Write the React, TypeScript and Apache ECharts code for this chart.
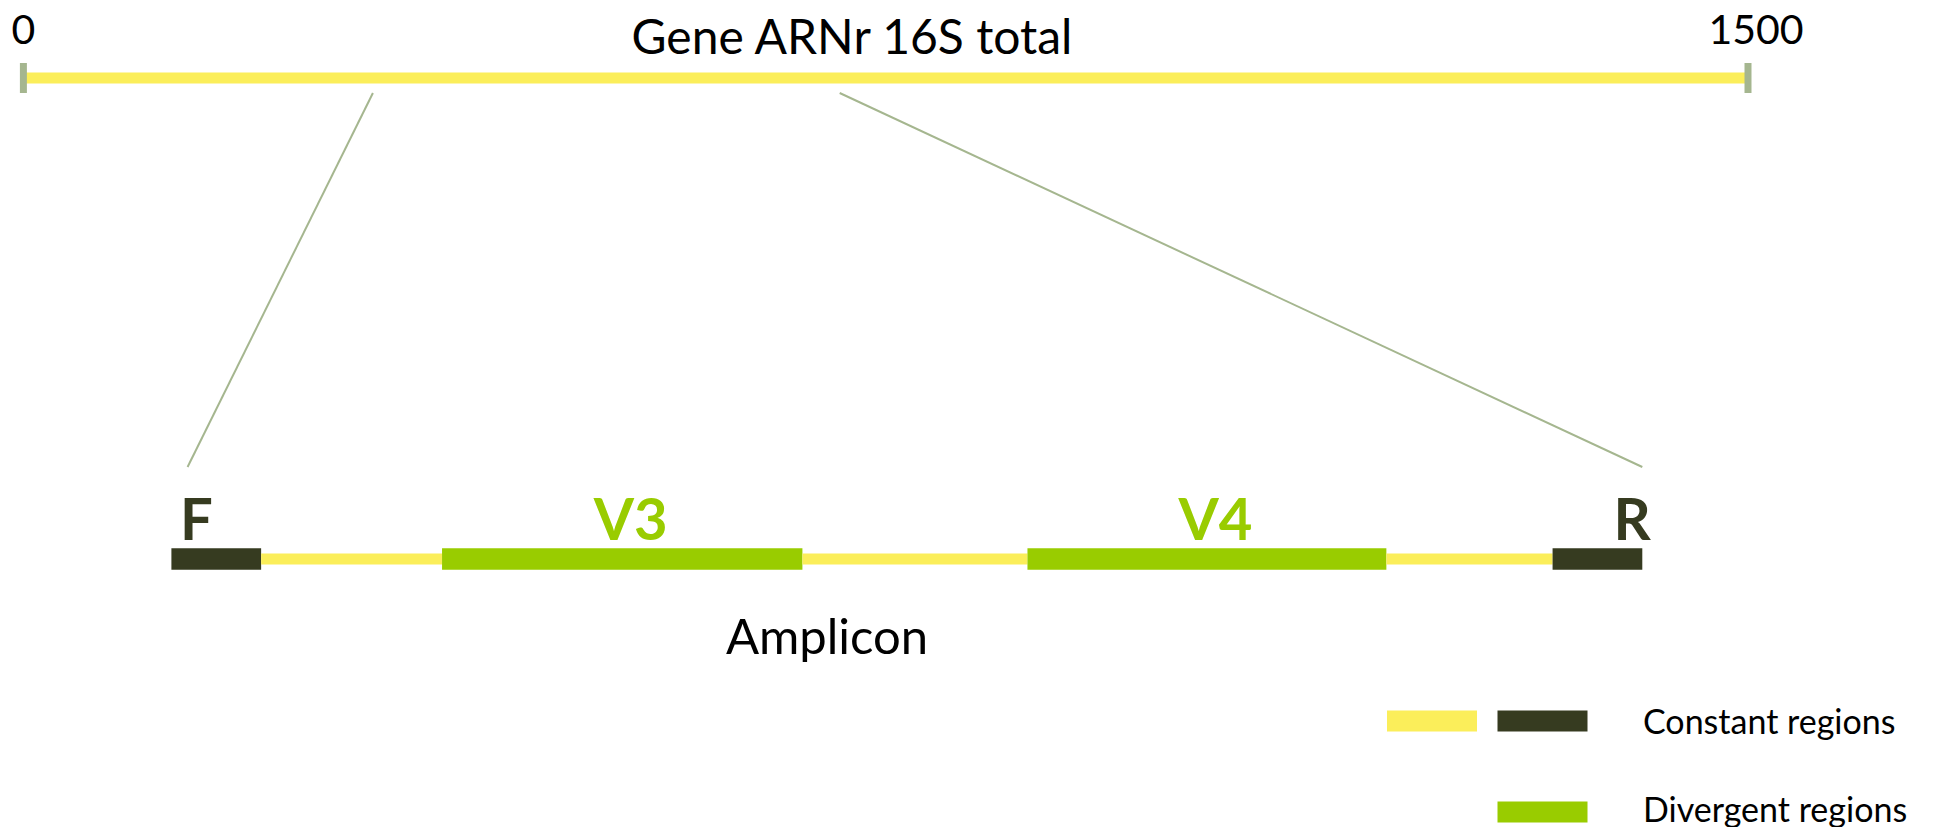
import React, { useEffect, useRef } from "react";
import * as echarts from "echarts";

// ---------- data ----------
const geneTitle = "Gene ARNr 16S total";
const geneRange = [0, 1500];
const geneTickValues = [0, 1500];
const geneBarStart = [0];
const geneBarEnd = [1500];

const ampliconTitle = "Amplicon";
const ampliconRange = [0, 100];
const segmentLabels = ["F", "", "V3", "", "V4", "", "R"];
const segmentStart = [0, 6.1, 18.4, 42.9, 58.2, 82.6, 93.9];
const segmentEnd = [6.1, 18.4, 42.9, 58.2, 82.6, 93.9, 100];
const segmentKind = ["primer", "constant", "variable", "constant", "variable", "constant", "primer"];

// zoom lines: position on the gene (bp) -> position on the amplicon scale
const zoomGenePos = [304, 710];
const zoomAmpliconPos = [1.1, 100];

const legendLabels = ["Constant regions", "Divergent regions"];
const legendKinds = [["constant", "primer"], ["variable"]];

// ---------- style ----------
const COLORS: Record<string, string> = {
  constant: "#FBEE5A",
  primer: "#363B20",
  variable: "#99CC00",
  link: "#A5B68F",
  text: "#000000",
};
const BAR_HEIGHT: Record<string, number> = { constant: 11, primer: 21.5, variable: 21.5 };
const FONT = "Lato, 'Open Sans', sans-serif";

export default function App() {
  const ref = useRef<HTMLDivElement>(null);
  useEffect(() => {
    if (!ref.current) return;
    const chart = echarts.init(ref.current, null, { renderer: "svg" });

    const segmentRender = (kinds: string[], labels: string[], range: number[]) =>
      (params: any, api: any) => {
        const i = params.dataIndex;
        const kind = kinds[i];
        const s = api.value(0);
        const e = api.value(1);
        const a = api.coord([s, 0.5]);
        const b = api.coord([e, 0.5]);
        const h = BAR_HEIGHT[kind];
        const children: any[] = [
          {
            type: "rect",
            shape: { x: a[0], y: a[1] - h / 2, width: b[0] - a[0], height: h },
            style: { fill: COLORS[kind] },
          },
        ];
        const label = labels[i];
        if (label) {
          let align = "center";
          let x = (a[0] + b[0]) / 2;
          if (s === range[0]) { align = "left"; x = a[0]; }
          else if (e === range[1]) { align = "right"; x = b[0]; }
          children.push({
            type: "text",
            x: x + 8.5,
            y: a[1] - 42,
            style: {
              text: label,
              fill: kind === "variable" ? COLORS.variable : COLORS.primer,
              font: `bold 58px ${FONT}`,
              align,
              verticalAlign: "middle",
            },
          });
        }
        return { type: "group", children };
      };

    chart.setOption({
      animation: false,
      grid: [
        { left: 23.4, top: 63, width: 1724.6, height: 30 },
        { left: 171.4, top: 539, width: 1470.9, height: 40 },
      ],
      xAxis: [
        { type: "value", gridIndex: 0, min: geneRange[0], max: geneRange[1], show: false },
        { type: "value", gridIndex: 1, min: ampliconRange[0], max: ampliconRange[1], show: false },
      ],
      yAxis: [
        { type: "value", gridIndex: 0, min: 0, max: 1, show: false },
        { type: "value", gridIndex: 1, min: 0, max: 1, show: false },
      ],
      series: [
        {
          type: "custom",
          xAxisIndex: 0,
          yAxisIndex: 0,
          data: geneBarStart.map((s, i) => [s, geneBarEnd[i]]),
          encode: { x: [0, 1] },
          renderItem: segmentRender(["constant"], [""], geneRange),
        },
        {
          type: "custom",
          xAxisIndex: 0,
          yAxisIndex: 0,
          z: 3,
          data: geneTickValues.map((v) => [v]),
          encode: { x: 0 },
          renderItem: (params: any, api: any) => {
            const p = api.coord([api.value(0), 0.5]);
            return {
              type: "group",
              children: [
                { type: "rect", shape: { x: p[0] - 3.5, y: p[1] - 15, width: 7, height: 30 }, style: { fill: COLORS.link } },
                {
                  type: "text",
                  x: p[0] + (params.dataIndex === geneTickValues.length - 1 ? 8 : 0),
                  y: p[1] - 50,
                  style: {
                    text: String(api.value(0)),
                    fill: COLORS.text,
                    font: `41px ${FONT}`,
                    align: "center",
                    verticalAlign: "middle",
                  },
                },
              ],
            };
          },
        },
        {
          type: "custom",
          xAxisIndex: 1,
          yAxisIndex: 1,
          data: segmentStart.map((s, i) => [s, segmentEnd[i]]),
          encode: { x: [0, 1] },
          renderItem: segmentRender(segmentKind, segmentLabels, ampliconRange),
        },
      ],
    });

    const graphics: any[] = [];
    zoomGenePos.forEach((g, i) => {
      const x1 = chart.convertToPixel({ xAxisIndex: 0 } as any, g) as number;
      const x2 = chart.convertToPixel({ xAxisIndex: 1 } as any, zoomAmpliconPos[i]) as number;
      graphics.push({
        type: "line",
        shape: { x1, y1: 93, x2, y2: 467 },
        style: { stroke: COLORS.link, lineWidth: 2 },
      });
    });
    graphics.push({
      type: "text",
      x: 852,
      y: 35,
      style: { text: geneTitle, fill: COLORS.text, font: `48px ${FONT}`, align: "center", verticalAlign: "middle" },
    });
    graphics.push({
      type: "text",
      x: 827,
      y: 635,
      style: { text: ampliconTitle, fill: COLORS.text, font: `49px ${FONT}`, align: "center", verticalAlign: "middle" },
    });
    const rowY = [721, 812];
    const textDy = [-1, -4];
    legendLabels.forEach((lab, r) => {
      const kinds = legendKinds[r];
      kinds.forEach((k, j) => {
        const x = 1497.5 - (kinds.length - 1 - j) * 110.5;
        graphics.push({
          type: "rect",
          shape: { x, y: rowY[r] - 10.5, width: 90, height: 21 },
          style: { fill: COLORS[k] },
        });
      });
      graphics.push({
        type: "text",
        x: 1643,
        y: rowY[r] + textDy[r],
        style: { text: lab, fill: COLORS.text, font: `34px ${FONT}`, align: "left", verticalAlign: "middle" },
      });
    });
    chart.setOption({ graphic: graphics });

    return () => chart.dispose();
  }, []);
  return (
    <div
      ref={ref}
      style={{ position: "absolute", left: 0, top: 0, width: "1938px", height: "827px", background: "#ffffff" }}
    />
  );
}
